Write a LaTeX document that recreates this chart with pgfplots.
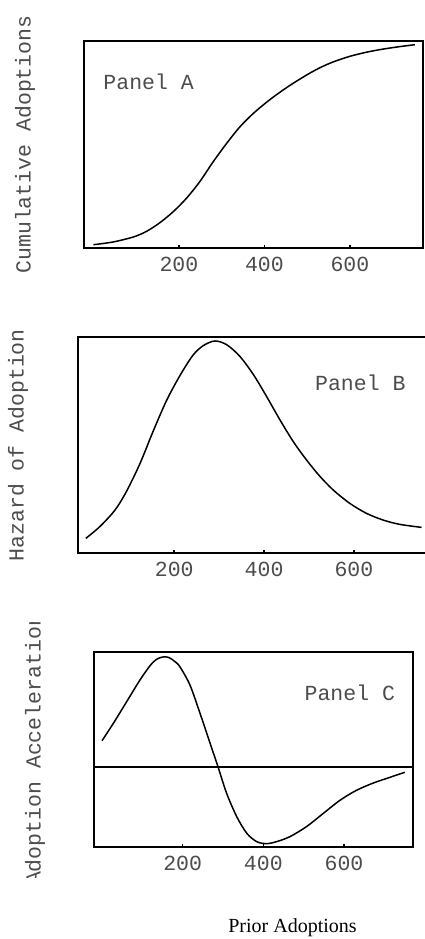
\documentclass[border=0pt]{standalone}
\usepackage{fontspec}
\setmainfont{Liberation Serif}
\setmonofont{Liberation Mono}
\usepackage{pgfplots}
\pgfplotsset{compat=1.18}
\newcommand{\cfont}{\ttfamily\fontsize{10.75}{12}\selectfont}
\pgfplotsset{
  panel/.style={
    scale only axis, anchor=south west,
    axis line style={line width=1pt, black},
    xtick={200,400,600}, ytick=\empty,
    xtick pos=bottom, tick align=inside,
    major tick length=1.5pt,
    tick style={line width=0.8pt, black},
    /pgf/number format/assume math mode=true,
    ticklabel style={font=\cfont, text=black!70},
    xticklabel style={yshift=-1pt},
    clip=false,
  },
  curve/.style={black, line width=0.75pt, no marks, smooth},
}
\begin{document}
\begin{tikzpicture}
% Panel A
\begin{axis}[panel, at={(42pt,345.5pt)}, width=169.5pt, height=103.5pt,
  xmin=-22, xmax=771, ymin=0, ymax=100]
\addplot[curve] coordinates {
(0,1.6) (46,2.9) (93,5.3) (124,8.0) (156,12.3) (187,17.6) (218,24.1) (249,32.1)
(280,41.6) (311.5,50.5) (343,58.6) (374,65.0) (405,70.4) (430,74.3) (460,78.6)
(499,83.6) (530,87.1) (561,89.9) (600,92.6) (639,94.6) (678,96.1) (717,97.3) (752,98.2)};
\node[anchor=west, font=\cfont, text=black!70] at (axis cs:7,80.3) {Panel A};
\end{axis}
% Panel B
\begin{axis}[panel, at={(38.85pt,192.85pt)}, width=176.5pt, height=108pt,
  xmin=-15, xmax=771, ymin=0, ymax=100]
\addplot[curve] coordinates {
(3,6.9) (34,12.3) (68,20.0) (94,28.8) (124,41.7) (153,56.5) (183,70.8) (213,82.4)
(242,91.8) (265,96.2) (290.5,98.3) (316.5,96.6) (346,91.2) (376,82.8) (405.6,72.6)
(435,61.9) (465,51.7) (494.6,43.2) (524,35.7) (554,29.3) (591,23.1) (628,18.5)
(665,15.4) (702,13.4) (750.6,12.0)};
\node[anchor=west, font=\cfont, text=black!70] at (axis cs:498,78.7) {Panel B};
\end{axis}
% Panel C
\begin{axis}[panel, at={(47pt,45.85pt)}, width=159.65pt, height=97.8pt,
  xmin=-20, xmax=772, ymin=-240, ymax=347]
\addplot[black, line width=1pt, no marks] coordinates {(-20,0) (772,0)};
\addplot[curve] coordinates {
(0,80) (28,132) (61,197) (94,262) (119,305) (135,324) (150,331) (165,330) (180,318)
(193,302) (218,247) (243,162) (268,72) (288,0) (309,-78) (334,-148) (359,-198) (383.5,-223)
(408,-229) (433,-223) (466,-208) (507,-178) (549,-138) (590,-99) (631,-69)
(673,-47) (714,-30) (751,-15)};
\node[anchor=west, font=\cfont, text=black!70] at (axis cs:485,225) {Panel C};
\end{axis}
% y labels
\node[rotate=90, font=\cfont, text=black!70] at (12.5pt,397.25pt) {Cumulative Adoptions};
\node[rotate=90, font=\cfont, text=black!70] at (9pt,246.85pt) {Hazard of Adoption};
\begin{scope}
\clip (0pt,30.5pt) rectangle (40pt,158pt);
\node[rotate=90, font=\cfont, text=black!70] at (17.5pt,94.75pt) {Adoption Acceleration};
\end{scope}
\node[font=\fontsize{10}{12}\selectfont] at (146.25pt,5.5pt) {Prior Adoptions};
\pgfresetboundingbox
\path[use as bounding box] (0,0) rectangle (212pt,469.5pt);
\end{tikzpicture}
\end{document}
